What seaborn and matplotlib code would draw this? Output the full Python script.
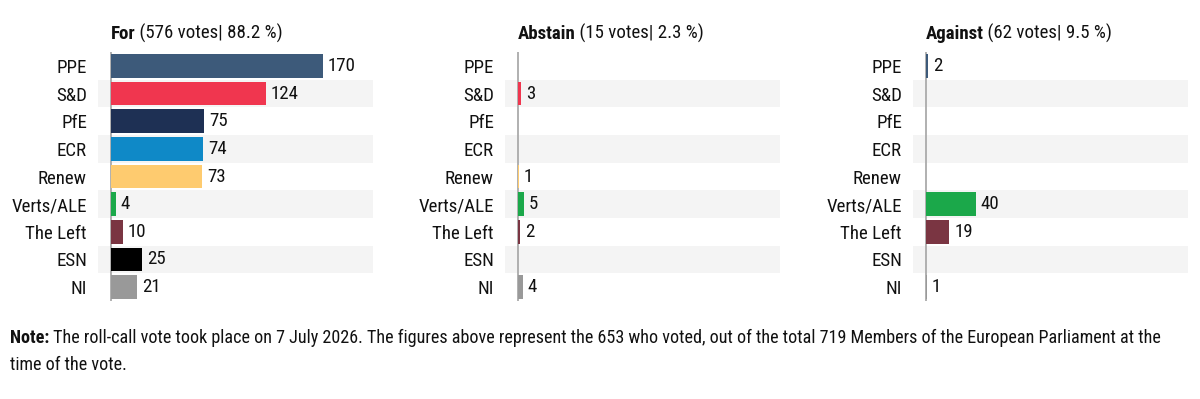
import matplotlib
matplotlib.use("Agg")
import matplotlib.pyplot as plt
import seaborn as sns
import pandas as pd

parties = ["PPE", "S&D", "PfE", "ECR", "Renew", "Verts/ALE", "The Left", "ESN", "NI"]
colors = ["#3d5a7a", "#f0364f", "#1e3054", "#0f89c7", "#fecb6f", "#1ba84a", "#7a3542", "#000000", "#999999"]
for_votes = [170, 124, 75, 74, 73, 4, 10, 25, 21]
abstain_votes = [0, 3, 0, 0, 1, 5, 2, 0, 4]
against_votes = [2, 0, 0, 0, 0, 40, 19, 0, 1]
titles = [("For", "(576 votes| 88.2 %)"),
          ("Abstain", "(15 votes| 2.3 %)"),
          ("Against", "(62 votes| 9.5 %)")]
note_bold = "Note:"
note_text = ("The roll-call vote took place on 7 July 2026. The figures above represent the 653 who voted, "
             "out of the total 719 Members of the European Parliament at the")
note_text2 = "time of the vote."

sns.set_theme(style="white")
FONT = ["Roboto Condensed", "Liberation Sans Narrow", "DejaVu Sans"]
plt.rcParams["font.family"] = FONT

fig = plt.figure(figsize=(12, 3.99), dpi=100)
lefts = [98, 505, 913]
palette = dict(zip(parties, colors))
LS = 13.6

for i, (vals, (tb, tr)) in enumerate(zip([for_votes, abstain_votes, against_votes], titles)):
    ax = fig.add_axes([lefts[i] / 1200, 1 - 301 / 399, 275 / 1200, 249 / 399])
    df = pd.DataFrame({"party": parties, "votes": vals})
    for j in range(len(parties)):
        if j % 2 == 1:
            ax.axhspan(j - 0.5, j + 0.5, color="#f4f4f4", zorder=0, lw=0)
    sns.barplot(data=df, y="party", x="votes", hue="party", palette=palette, order=parties,
                hue_order=parties, orient="h", width=0.86, linewidth=0,
                saturation=1, legend=False, ax=ax, zorder=2)
    ax.axvline(0, color="#aaaaaa", lw=1.3, zorder=1)
    for j, v in enumerate(vals):
        if v > 0:
            ax.text(v + 4, j, str(v), va="center", ha="left", fontsize=LS, color="#111111")
    ax.set_xlim(-10, 210)
    ax.set_ylim(len(parties) - 0.5, -0.5)
    ax.set_xlabel("")
    ax.set_ylabel("")
    ax.set_xticks([])
    ax.tick_params(axis="y", length=0, pad=8, labelsize=LS, labelcolor="#111111")
    for s in ax.spines.values():
        s.set_visible(False)
    t = ax.text(10 / 220, 1.035, tb, transform=ax.transAxes, fontsize=LS, fontweight="bold",
                ha="left", va="bottom", color="#111111")
    ax.annotate(" " + tr, xy=(1, 0), xycoords=t, va="bottom", ha="left", fontsize=LS, color="#111111")

NS = 13.1
t = fig.text(10 / 1200, 1 - 343 / 399, note_bold, fontsize=NS, fontweight="bold", ha="left",
             va="baseline", color="#111111")
fig.canvas.draw()
fig.axes[0].annotate(" " + note_text, xy=(1, 0), xycoords=t, va="bottom", ha="left", fontsize=NS,
                     color="#111111", annotation_clip=False)
fig.text(10 / 1200, 1 - 370 / 399, note_text2, fontsize=NS, ha="left", va="baseline", color="#111111")

fig.savefig("out.png", dpi=100)
